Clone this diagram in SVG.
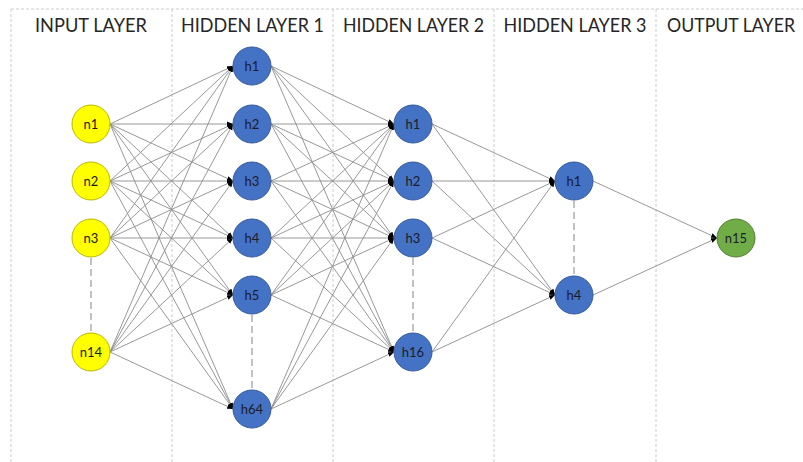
<svg xmlns="http://www.w3.org/2000/svg" width="803" height="462" viewBox="0 0 803 462">
  <style>
    .grid { stroke: #cccccc; stroke-width: 1; stroke-dasharray: 3 2; fill: none; }
    .gap { stroke: #9a9a9a; stroke-width: 1.2; stroke-dasharray: 7 4; fill: none; }
    .hdr { font-family: "Lato", "Liberation Sans", sans-serif; font-size: 20px; fill: #262626; text-anchor: middle; }
    .lbl { font-family: "Lato", "Liberation Sans", sans-serif; font-size: 13px; fill: #1c1c2a; text-anchor: middle; dominant-baseline: central; }
    .in { fill: #ffff00; stroke: #b8b800; stroke-width: 1; }
    .hid { fill: #4472c4; stroke: #35599a; stroke-width: 1; }
    .out { fill: #70ad47; stroke: #507e32; stroke-width: 1; }
    #edges line { stroke: #8c8c8c; stroke-width: 0.9; marker-end: url(#tip); }
  </style>
  <defs>
    <marker id="tip" markerUnits="userSpaceOnUse" markerWidth="6" markerHeight="6" viewBox="0 0 6 6" refX="6" refY="3" orient="auto">
      <path d="M0,0.6 L6,3 L0,5.4 Z" fill="#000"/>
    </marker>
  </defs>
  <rect width="803" height="462" fill="#ffffff"/>

  <!-- column frame -->
  <g id="frame">
    <line class="grid" x1="11" y1="9" x2="803" y2="9"/>
    <line class="grid" x1="11" y1="9" x2="11" y2="462"/>
    <line class="grid" x1="172" y1="9" x2="172" y2="462"/>
    <line class="grid" x1="333" y1="9" x2="333" y2="462"/>
    <line class="grid" x1="494" y1="9" x2="494" y2="462"/>
    <line class="grid" x1="656" y1="9" x2="656" y2="462"/>
  </g>

  <!-- column headers -->
  <g id="headers">
    <text class="hdr" x="91" y="32" textLength="112" lengthAdjust="spacingAndGlyphs">INPUT LAYER</text>
    <text class="hdr" x="252.5" y="32" textLength="143" lengthAdjust="spacingAndGlyphs">HIDDEN LAYER 1</text>
    <text class="hdr" x="413.5" y="32" textLength="141" lengthAdjust="spacingAndGlyphs">HIDDEN LAYER 2</text>
    <text class="hdr" x="575" y="32" textLength="143" lengthAdjust="spacingAndGlyphs">HIDDEN LAYER 3</text>
    <text class="hdr" x="731" y="32" textLength="128" lengthAdjust="spacingAndGlyphs">OUTPUT LAYER</text>
  </g>

  <!-- elided units -->
  <g id="ellipsis">
    <line class="gap" x1="91" y1="258" x2="91" y2="332"/>
    <line class="gap" x1="252" y1="315" x2="252" y2="389"/>
    <line class="gap" x1="413" y1="258" x2="413" y2="332"/>
    <line class="gap" x1="574" y1="201" x2="574" y2="275"/>
  </g>

  <g id="edges">
    <!-- input -> hidden 1 -->
    <line x1="110" y1="124" x2="233" y2="66"/>
    <line x1="110" y1="124" x2="233" y2="124"/>
    <line x1="110" y1="124" x2="233" y2="181"/>
    <line x1="110" y1="124" x2="233" y2="238"/>
    <line x1="110" y1="124" x2="233" y2="295"/>
    <line x1="110" y1="124" x2="233" y2="409"/>
    <line x1="110" y1="181" x2="233" y2="66"/>
    <line x1="110" y1="181" x2="233" y2="124"/>
    <line x1="110" y1="181" x2="233" y2="181"/>
    <line x1="110" y1="181" x2="233" y2="238"/>
    <line x1="110" y1="181" x2="233" y2="295"/>
    <line x1="110" y1="181" x2="233" y2="409"/>
    <line x1="110" y1="238" x2="233" y2="66"/>
    <line x1="110" y1="238" x2="233" y2="124"/>
    <line x1="110" y1="238" x2="233" y2="181"/>
    <line x1="110" y1="238" x2="233" y2="238"/>
    <line x1="110" y1="238" x2="233" y2="295"/>
    <line x1="110" y1="238" x2="233" y2="409"/>
    <line x1="110" y1="352" x2="233" y2="66"/>
    <line x1="110" y1="352" x2="233" y2="124"/>
    <line x1="110" y1="352" x2="233" y2="181"/>
    <line x1="110" y1="352" x2="233" y2="238"/>
    <line x1="110" y1="352" x2="233" y2="295"/>
    <line x1="110" y1="352" x2="233" y2="409"/>
    <!-- hidden 1 -> hidden 2 -->
    <line x1="271" y1="66" x2="394" y2="124"/>
    <line x1="271" y1="66" x2="394" y2="181"/>
    <line x1="271" y1="66" x2="394" y2="238"/>
    <line x1="271" y1="66" x2="394" y2="352"/>
    <line x1="271" y1="124" x2="394" y2="124"/>
    <line x1="271" y1="124" x2="394" y2="181"/>
    <line x1="271" y1="124" x2="394" y2="238"/>
    <line x1="271" y1="124" x2="394" y2="352"/>
    <line x1="271" y1="181" x2="394" y2="124"/>
    <line x1="271" y1="181" x2="394" y2="181"/>
    <line x1="271" y1="181" x2="394" y2="238"/>
    <line x1="271" y1="181" x2="394" y2="352"/>
    <line x1="271" y1="238" x2="394" y2="124"/>
    <line x1="271" y1="238" x2="394" y2="181"/>
    <line x1="271" y1="238" x2="394" y2="238"/>
    <line x1="271" y1="238" x2="394" y2="352"/>
    <line x1="271" y1="295" x2="394" y2="124"/>
    <line x1="271" y1="295" x2="394" y2="181"/>
    <line x1="271" y1="295" x2="394" y2="238"/>
    <line x1="271" y1="295" x2="394" y2="352"/>
    <line x1="271" y1="409" x2="394" y2="124"/>
    <line x1="271" y1="409" x2="394" y2="181"/>
    <line x1="271" y1="409" x2="394" y2="238"/>
    <line x1="271" y1="409" x2="394" y2="352"/>
    <!-- hidden 2 -> hidden 3 -->
    <line x1="432" y1="124" x2="555" y2="181"/>
    <line x1="432" y1="124" x2="555" y2="295"/>
    <line x1="432" y1="181" x2="555" y2="181"/>
    <line x1="432" y1="181" x2="555" y2="295"/>
    <line x1="432" y1="238" x2="555" y2="181"/>
    <line x1="432" y1="238" x2="555" y2="295"/>
    <line x1="432" y1="352" x2="555" y2="181"/>
    <line x1="432" y1="352" x2="555" y2="295"/>
    <!-- hidden 3 -> output -->
    <line x1="593" y1="181" x2="717" y2="238"/>
    <line x1="593" y1="295" x2="717" y2="238"/>
  </g>

  <!-- input layer -->
  <g id="in-n1"><circle class="in" cx="91" cy="124" r="19"/><text class="lbl" x="91" y="124">n1</text></g>
  <g id="in-n2"><circle class="in" cx="91" cy="181" r="19"/><text class="lbl" x="91" y="181">n2</text></g>
  <g id="in-n3"><circle class="in" cx="91" cy="238" r="19"/><text class="lbl" x="91" y="238">n3</text></g>
  <g id="in-n14"><circle class="in" cx="91" cy="352" r="19"/><text class="lbl" x="91" y="352">n14</text></g>

  <!-- hidden layer 1 -->
  <g id="l1-h1"><circle class="hid" cx="252" cy="66" r="19"/><text class="lbl" x="252" y="66">h1</text></g>
  <g id="l1-h2"><circle class="hid" cx="252" cy="124" r="19"/><text class="lbl" x="252" y="124">h2</text></g>
  <g id="l1-h3"><circle class="hid" cx="252" cy="181" r="19"/><text class="lbl" x="252" y="181">h3</text></g>
  <g id="l1-h4"><circle class="hid" cx="252" cy="238" r="19"/><text class="lbl" x="252" y="238">h4</text></g>
  <g id="l1-h5"><circle class="hid" cx="252" cy="295" r="19"/><text class="lbl" x="252" y="295">h5</text></g>
  <g id="l1-h64"><circle class="hid" cx="252" cy="409" r="19"/><text class="lbl" x="252" y="409">h64</text></g>

  <!-- hidden layer 2 -->
  <g id="l2-h1"><circle class="hid" cx="413" cy="124" r="19"/><text class="lbl" x="413" y="124">h1</text></g>
  <g id="l2-h2"><circle class="hid" cx="413" cy="181" r="19"/><text class="lbl" x="413" y="181">h2</text></g>
  <g id="l2-h3"><circle class="hid" cx="413" cy="238" r="19"/><text class="lbl" x="413" y="238">h3</text></g>
  <g id="l2-h16"><circle class="hid" cx="413" cy="352" r="19"/><text class="lbl" x="413" y="352">h16</text></g>

  <!-- hidden layer 3 -->
  <g id="l3-h1"><circle class="hid" cx="574" cy="181" r="19"/><text class="lbl" x="574" y="181">h1</text></g>
  <g id="l3-h4"><circle class="hid" cx="574" cy="295" r="19"/><text class="lbl" x="574" y="295">h4</text></g>

  <!-- output layer -->
  <g id="out-n15"><circle class="out" cx="736" cy="238" r="19"/><text class="lbl" x="736" y="238">n15</text></g>
</svg>
